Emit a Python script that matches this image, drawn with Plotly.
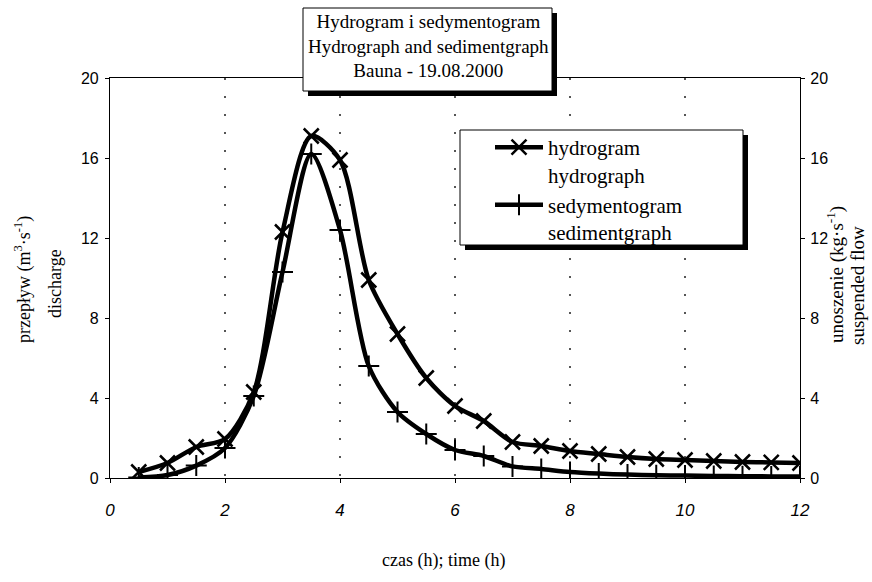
import plotly.graph_objects as go

# ---- data ----
time_h = [0.5, 1.0, 1.5, 2.0, 2.5, 3.0, 3.5, 4.0, 4.5, 5.0, 5.5, 6.0,
          6.5, 7.0, 7.5, 8.0, 8.5, 9.0, 9.5, 10.0, 10.5, 11.0, 11.5, 12.0]
hydrograph = [0.3, 0.75, 1.55, 1.95, 4.3, 12.3, 17.1, 15.9, 9.9, 7.2, 5.0, 3.6,
              2.85, 1.8, 1.6, 1.35, 1.2, 1.05, 0.95, 0.9, 0.85, 0.8, 0.78, 0.75]
sedimentgraph = [0.02, 0.15, 0.62, 1.5, 4.1, 10.3, 16.2, 12.4, 5.6, 3.3, 2.2, 1.4,
                 1.1, 0.58, 0.45, 0.3, 0.22, 0.17, 0.14, 0.12, 0.1, 0.09, 0.08, 0.08]
x_ticks = [0, 2, 4, 6, 8, 10, 12]
y_ticks = [0, 4, 8, 12, 16, 20]

W, H = 872, 582
L, R, T, B = 110, 800, 78, 478


def px(x):
    return (x - L) / (R - L)


def py(y):
    return (B - y) / (B - T)


SERIF = "Liberation Serif, Times New Roman, serif"
SANS = "Liberation Sans, Arial, sans-serif"

fig = go.Figure()
fig.add_trace(go.Scatter(
    x=time_h, y=hydrograph, name="hydrogram<br>hydrograph",
    mode="lines+markers",
    line=dict(color="black", width=4.5, shape="spline", smoothing=0.8),
    marker=dict(symbol="x-thin", size=15, color="black",
                line=dict(width=2.5, color="black")),
))
fig.add_trace(go.Scatter(
    x=time_h, y=sedimentgraph, name="sedymentogram<br>sedimentgraph",
    yaxis="y2", mode="lines+markers",
    line=dict(color="black", width=4.5, shape="spline", smoothing=0.8),
    marker=dict(symbol="cross-thin", size=15, color="black",
                line=dict(width=2, color="black")),
))

axis_common = dict(showline=True, linecolor="black", linewidth=1.2,
                   ticks="outside", ticklen=4, tickcolor="black",
                   zeroline=False)

fig.update_layout(
    width=W, height=H,
    margin=dict(l=L, r=W - R, t=T, b=H - B, pad=0),
    paper_bgcolor="white", plot_bgcolor="white",
    showlegend=True,
    xaxis=dict(range=[0, 12], tickvals=x_ticks, showgrid=True,
               gridcolor="#555555", griddash="2px,16px", gridwidth=1.5,
               mirror=True, ticklabelstandoff=12,
               tickfont=dict(family=SANS, size=17, color="black", style="italic"),
               **axis_common),
    yaxis=dict(range=[0, 20], tickvals=y_ticks, showgrid=False,
               ticklabelstandoff=3,
               tickfont=dict(family=SANS, size=16, color="black"),
               **axis_common),
    yaxis2=dict(range=[0, 20], tickvals=y_ticks, showgrid=False,
                overlaying="y", side="right", ticklabelstandoff=2,
                tickfont=dict(family=SANS, size=16, color="black"),
                **axis_common),
    legend=dict(x=px(490), y=py(127), xanchor="left", yanchor="top",
                bgcolor="rgba(0,0,0,0)", borderwidth=0,
                font=dict(family=SERIF, size=21, color="black"),
                valign="top", itemwidth=48),
)

# legend frame with shadow
fig.add_shape(type="rect", xref="paper", yref="paper", layer="above",
              x0=px(465), x1=px(748), y0=py(135), y1=py(250),
              fillcolor="black", line=dict(width=0))
fig.add_shape(type="rect", xref="paper", yref="paper", layer="above",
              x0=px(460), x1=px(743), y0=py(130), y1=py(245),
              fillcolor="white", line=dict(width=1, color="black"))

# title frame with shadow
fig.add_shape(type="rect", xref="paper", yref="paper", layer="above",
              x0=px(308), x1=px(557), y0=py(13), y1=py(96),
              fillcolor="black", line=dict(width=0))
fig.add_shape(type="rect", xref="paper", yref="paper", layer="above",
              x0=px(303), x1=px(552), y0=py(8), y1=py(91),
              fillcolor="white", line=dict(width=1, color="black"))

fig.add_annotation(
    text="Hydrogram i sedymentogram<br>Hydrograph and sedimentgraph<br>Bauna - 19.08.2000",
    xref="paper", yref="paper", x=px(428), y=py(46),
    xanchor="center", yanchor="middle", showarrow=False, align="center",
    font=dict(family=SERIF, size=19, color="black"))

# axis titles
fig.add_annotation(text="przepływ (m<sup>3</sup>·s<sup>-1</sup>)",
                   xref="paper", yref="paper", x=px(23), y=py(280),
                   textangle=-90, showarrow=False, xanchor="center", yanchor="middle",
                   font=dict(family=SERIF, size=18, color="black"))
fig.add_annotation(text="discharge",
                   xref="paper", yref="paper", x=px(55), y=py(284),
                   textangle=-90, showarrow=False, xanchor="center", yanchor="middle",
                   font=dict(family=SERIF, size=18, color="black"))
fig.add_annotation(text="unoszenie (kg·s<sup>-1</sup>)",
                   xref="paper", yref="paper", x=px(835), y=py(275),
                   textangle=-90, showarrow=False, xanchor="center", yanchor="middle",
                   font=dict(family=SERIF, size=19, color="black"))
fig.add_annotation(text="suspended flow",
                   xref="paper", yref="paper", x=px(857), y=py(286),
                   textangle=-90, showarrow=False, xanchor="center", yanchor="middle",
                   font=dict(family=SERIF, size=19, color="black"))
fig.add_annotation(text="czas (h); time (h)",
                   xref="paper", yref="paper", x=px(443), y=py(560),
                   showarrow=False, xanchor="center", yanchor="middle",
                   font=dict(family=SERIF, size=18, color="black"))

fig.write_html("out.html", config={"displayModeBar": False},
               post_script="document.body.style.margin='0';")
